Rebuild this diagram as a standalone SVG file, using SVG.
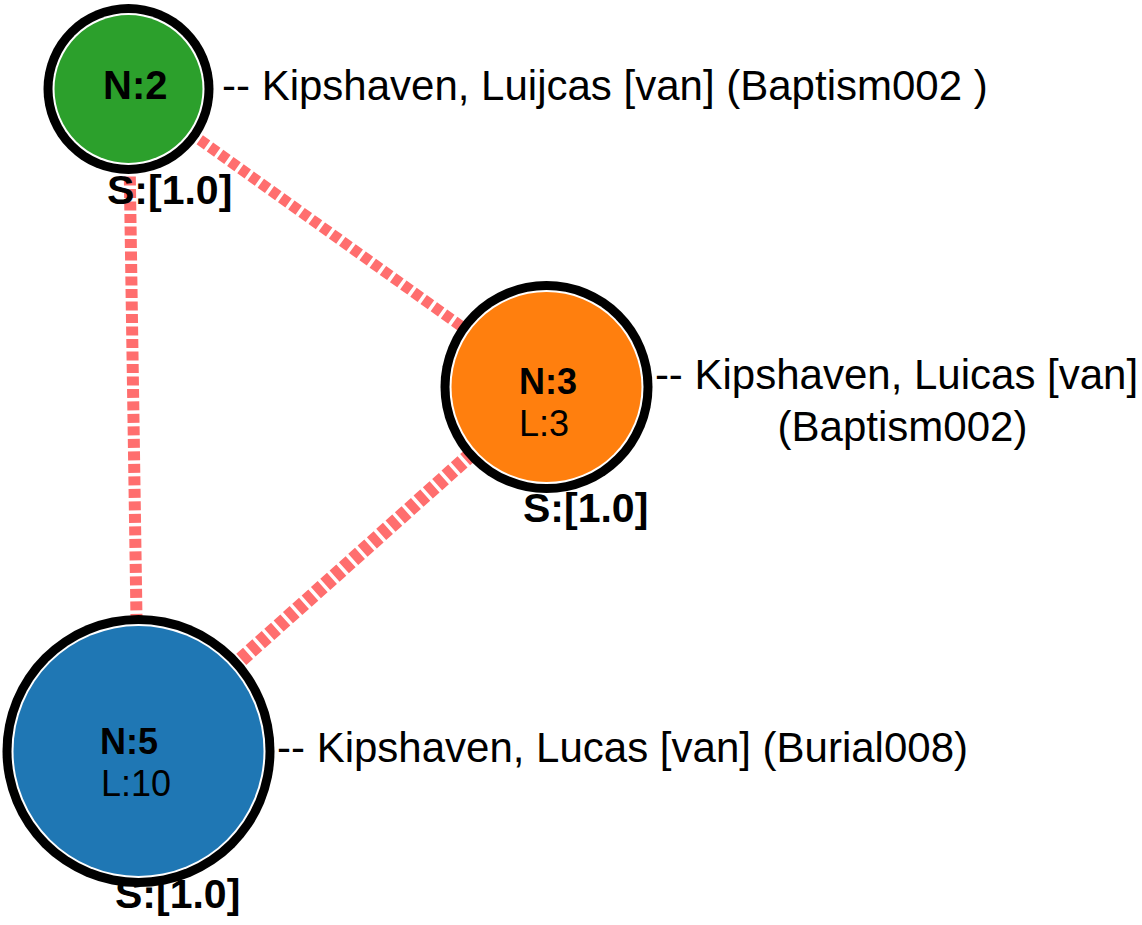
<svg xmlns="http://www.w3.org/2000/svg" width="1142" height="925" viewBox="0 0 1142 925">
<style>
.edge{fill:none;stroke:#ff6e6e;stroke-dasharray:9 3.5}
.ring{fill:#000}
.gap{fill:#fff}
.t{font-family:"Liberation Sans",Arial,Helvetica,sans-serif;fill:#000}
.nid{font-size:40px}
.nl{font-size:36px}
.b{font-weight:bold}
.s{font-size:41px;font-weight:bold}
.lab{font-size:42px}
</style>
<rect width="1142" height="925" fill="#fff"/>
<g id="edges">
<line class="edge" x1="128.5" y1="89" x2="138.5" y2="751" stroke-width="12"/>
<line class="edge" x1="128.5" y1="89" x2="546.5" y2="387" stroke-width="11"/>
<line class="edge" x1="546.5" y1="387" x2="138.5" y2="751" stroke-width="15"/>
</g>
<g id="node2">
<circle class="ring" cx="128.5" cy="89" r="85"/>
<circle class="gap" cx="128.5" cy="89" r="76"/>
<circle cx="128.5" cy="89" r="74" fill="#2ca02c"/>
<text class="t nid b" x="103" y="99">N:2</text>
<text class="t s" x="107" y="204">S:[1.0]</text>
<text class="t lab" x="222" y="100">-- Kipshaven, Luijcas [van] (Baptism002 )</text>
</g>
<g id="node3">
<circle class="ring" cx="546.5" cy="387" r="106"/>
<circle class="gap" cx="546.5" cy="387" r="97"/>
<circle cx="546.5" cy="387" r="95" fill="#ff7f0e"/>
<text class="t nl b" x="519" y="394">N:3</text>
<text class="t nl" x="519" y="436">L:3</text>
<text class="t s" x="523" y="522">S:[1.0]</text>
<text class="t lab" text-anchor="middle"><tspan x="896.5" y="389">-- Kipshaven, Luicas [van]</tspan><tspan x="902.5" y="441">(Baptism002)</tspan></text>
</g>
<g id="node5">
<circle class="ring" cx="138.5" cy="751" r="136"/>
<circle class="gap" cx="138.5" cy="751" r="127"/>
<circle cx="138.5" cy="751" r="125" fill="#1f77b4"/>
<text class="t nl b" x="100" y="754">N:5</text>
<text class="t nl" x="101" y="796">L:10</text>
<text class="t s" x="115" y="908">S:[1.0]</text>
<text class="t lab" x="277" y="762">-- Kipshaven, Lucas [van] (Burial008)</text>
</g>
</svg>
